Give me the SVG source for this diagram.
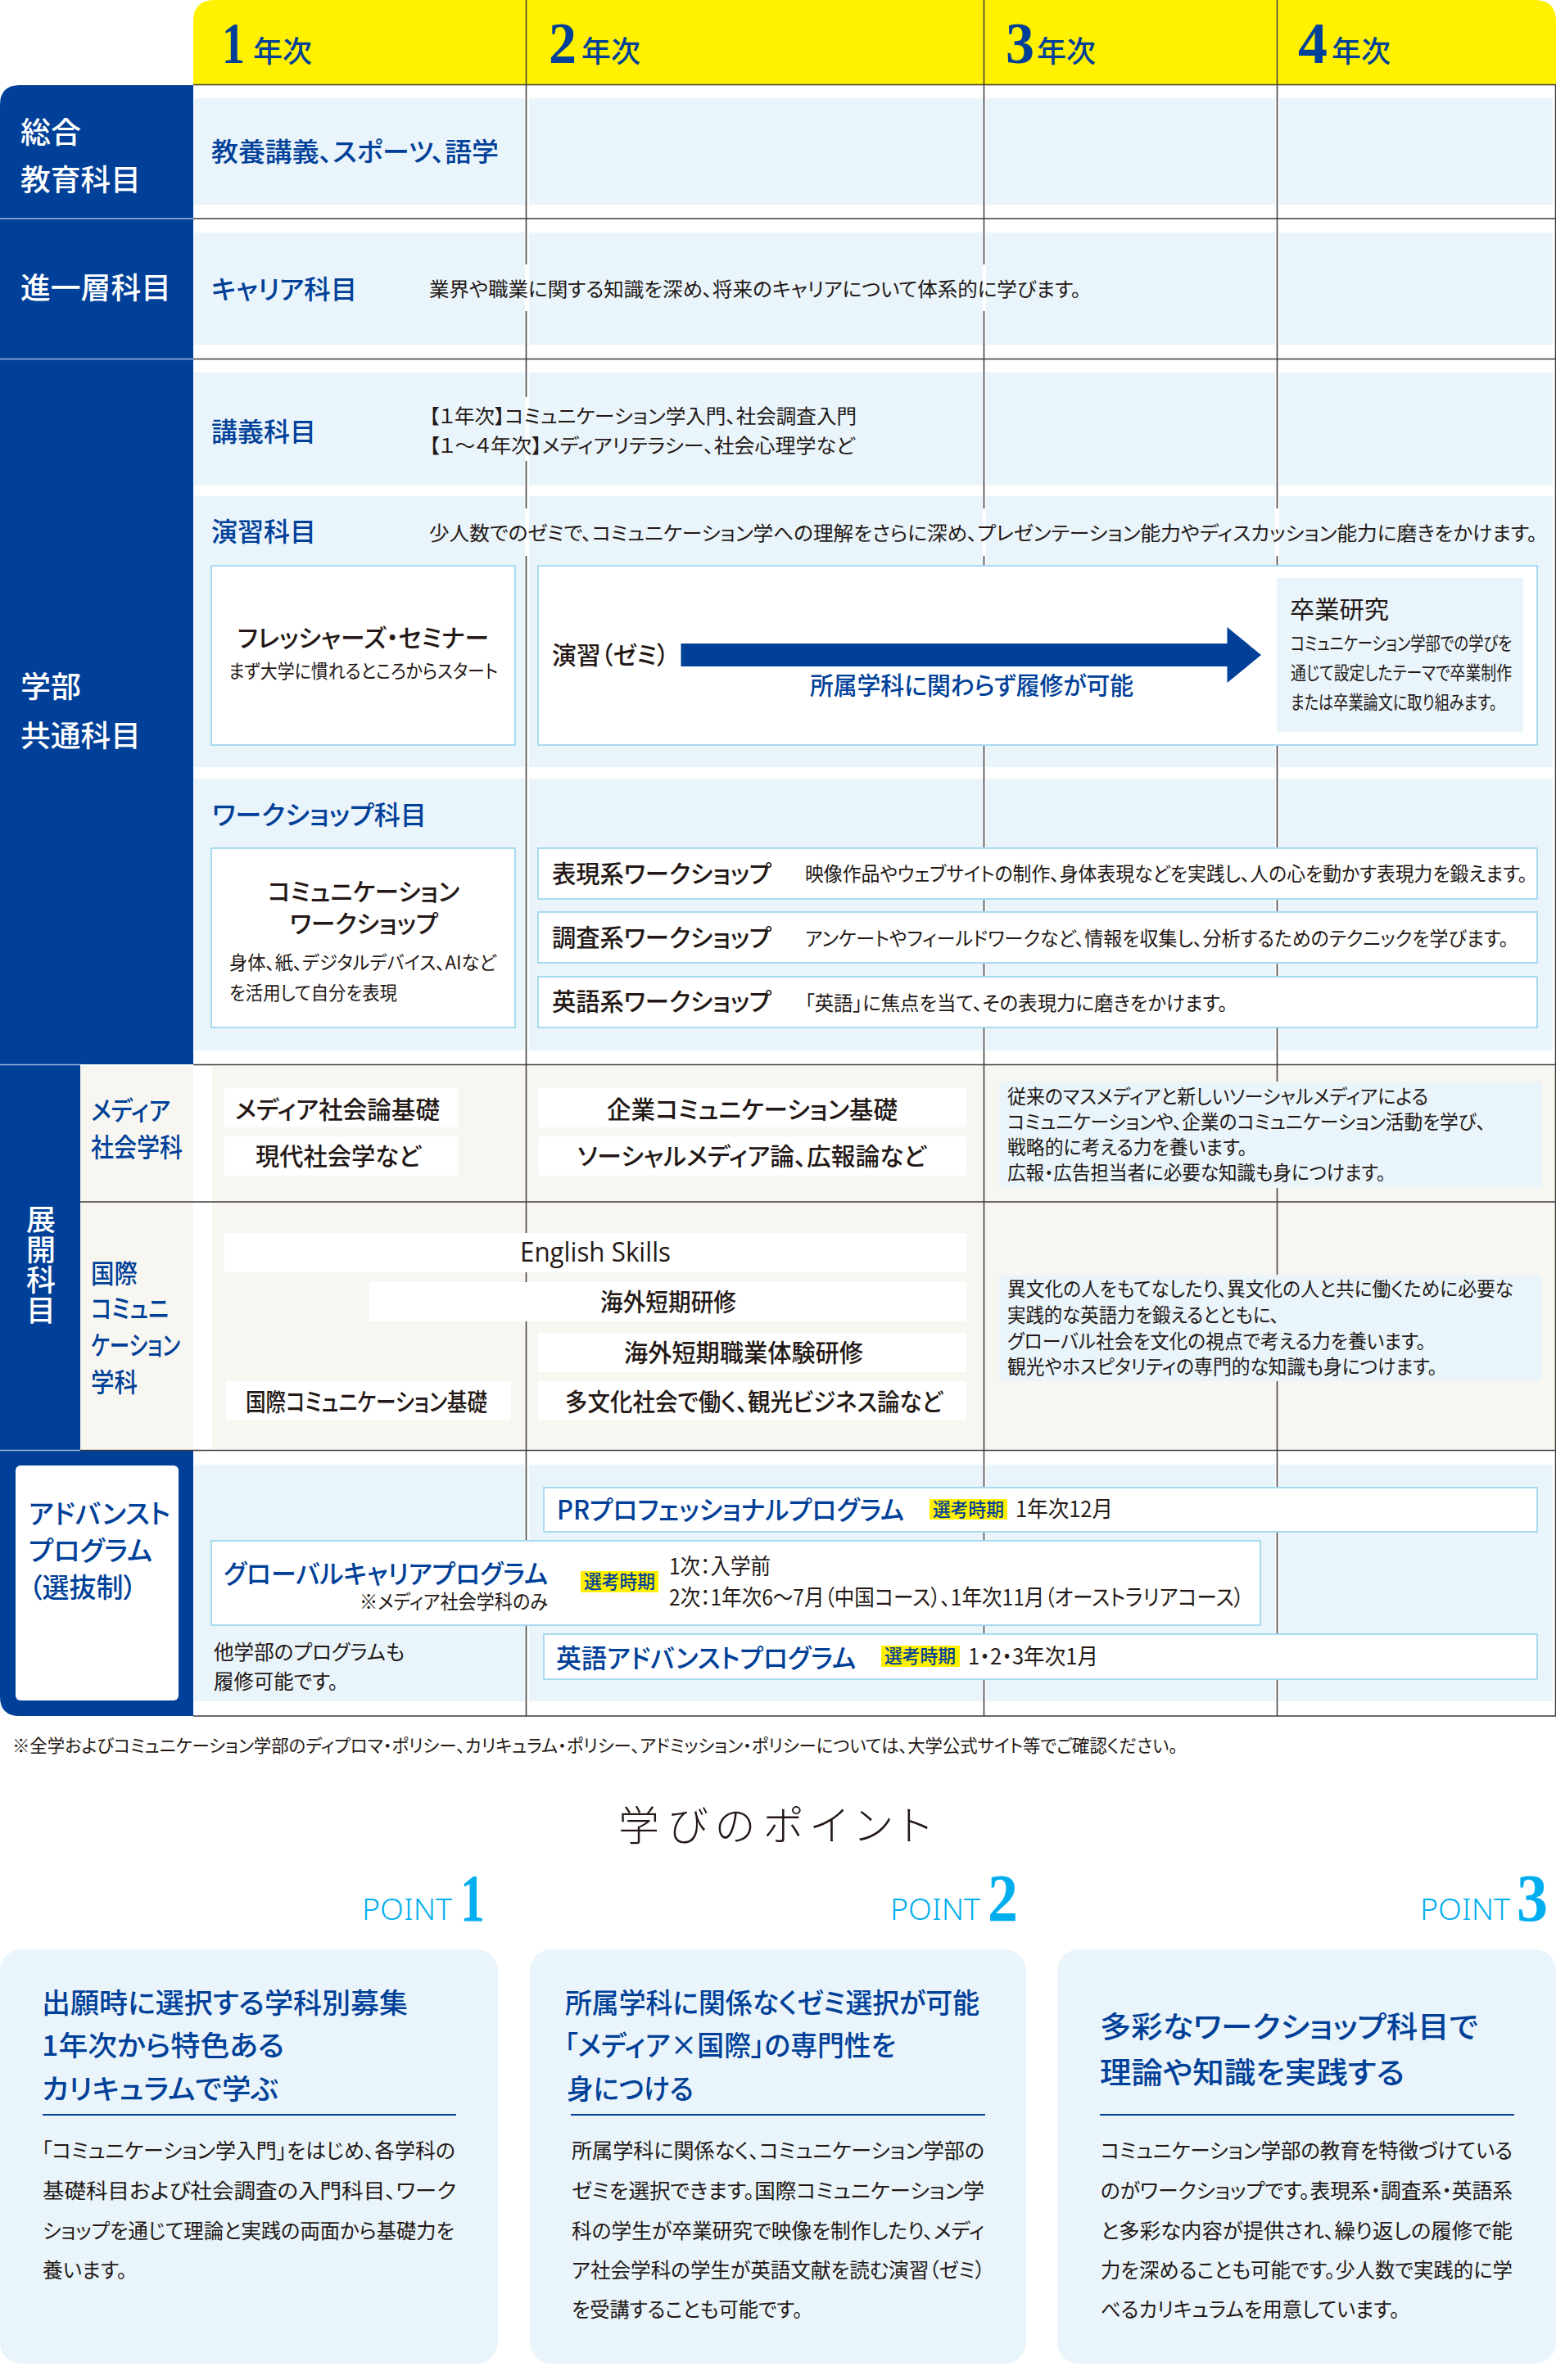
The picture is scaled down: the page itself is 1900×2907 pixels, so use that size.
<svg xmlns="http://www.w3.org/2000/svg" width="1900" height="2907" viewBox="0 0 1900 2907">
<style>
text{font-family:"Noto Sans CJK JP","Noto Sans",sans-serif;fill:#231815;font-feature-settings:"palt";}
.w{fill:#fff;font-size:36px;font-weight:500}
.y{fill:#004098;font-size:36px;font-weight:500}
.num{font-family:"Liberation Serif",serif;fill:#004098;font-size:72px;font-weight:700}
.bt{fill:#004098;font-size:32px;font-weight:500}
.d{font-size:24px;font-weight:400}
.h{font-size:30px;font-weight:500}
.s{font-size:23px;font-weight:400}
.tag{fill:#004098;font-size:23px;font-weight:500}
.pt{fill:#00AEEF;font-family:"Noto Sans",sans-serif;font-size:36px;font-weight:300}
.pn{fill:#00AEEF;font-family:"Liberation Serif",serif;font-size:82px;font-weight:700}
.ct{fill:#004098;font-size:34px;font-weight:500}
.b{font-size:25px;font-weight:400}
.band{fill:#E9F4FB}
.beige{fill:#F8F6F0}
.box{fill:#fff;stroke:#A8DAF0;stroke-width:2}
.wb{fill:#fff}
.ye{fill:#FFF100}
.rule{stroke:#3E3A39;stroke-width:1.5;fill:none}
.lt{stroke:#9DB8DC;stroke-width:1.5;fill:none}
.cr{stroke:#004098;stroke-width:2;fill:none}
</style>
<defs>
<clipPath id="gut"><rect x="237" y="0" width="404" height="2907"/><rect x="646" y="0" width="554" height="2907"/><rect x="1204" y="0" width="353" height="2907"/><rect x="1562" y="0" width="334" height="2907"/></clipPath>
</defs>

<g id="header">
<path class="ye" d="M236 104V26Q236 0 262 0H1874Q1900 0 1900 26V104Z"/>
</g>
<g id="side-columns">
<path d="M0 1300V128Q0 104 24 104H236V1300Z" fill="#004098"/>
<rect x="0" y="1301" width="98" height="470" fill="#004098"/>
<rect x="98" y="1302" width="138" height="468" class="beige"/>
<rect x="259" y="1302" width="1641" height="468" class="beige"/>
<path d="M0 1771H236V2096H24Q0 2096 0 2072Z" fill="#004098"/>
</g>
<g id="bands" clip-path="url(#gut)">
<rect class="band" x="237" y="120" width="1663" height="130"/>
<rect class="band" x="237" y="284" width="1663" height="137"/>
<rect class="band" x="237" y="455" width="1663" height="138"/>
<rect class="band" x="237" y="606" width="1663" height="331"/>
<rect class="band" x="237" y="951" width="1663" height="332"/>
<rect class="band" x="237" y="1789" width="1663" height="289"/>
</g>

<g id="connectors">
<path class="rule" d="M236 103.5H1900M236 267H1900M236 438.5H1900M236 1300.5H1900M98 1468H1900M98 1771.5H1900M236 2096H1900M1899.5 104V2096"/>
<path class="lt" d="M0 267H236M0 438.5H236M0 1300.5H98M0 1771.5H98"/>
<path class="rule" d="M642.5 0V323M642.5 380V485M642.5 563V621M642.5 679V2096M1201.5 0V323M1201.5 380V621M1201.5 679V2096M1559.5 0V621M1559.5 679V2096"/>
</g>

<g id="year-1"><text class="num" x="271" y="77" textLength="28" lengthAdjust="spacingAndGlyphs">1</text><text class="y" x="309" y="76" textLength="72" lengthAdjust="spacingAndGlyphs">年次</text></g>
<g id="year-2"><text class="num" x="670" y="77" textLength="34" lengthAdjust="spacingAndGlyphs">2</text><text class="y" x="710" y="76" textLength="72" lengthAdjust="spacingAndGlyphs">年次</text></g>
<g id="year-3"><text class="num" x="1228" y="77" textLength="35" lengthAdjust="spacingAndGlyphs">3</text><text class="y" x="1266" y="76" textLength="72" lengthAdjust="spacingAndGlyphs">年次</text></g>
<g id="year-4"><text class="num" x="1585" y="77" textLength="36" lengthAdjust="spacingAndGlyphs">4</text><text class="y" x="1626" y="76" textLength="72" lengthAdjust="spacingAndGlyphs">年次</text></g>

<g id="sogo-label"><text class="w" x="25" y="175" textLength="74" lengthAdjust="spacingAndGlyphs">総合</text><text class="w" x="25" y="233" textLength="147" lengthAdjust="spacingAndGlyphs">教育科目</text></g>
<g id="shinichiso-label"><text class="w" x="25" y="365" textLength="184" lengthAdjust="spacingAndGlyphs">進一層科目</text></g>
<g id="gakubu-label"><text class="w" x="25" y="852" textLength="74" lengthAdjust="spacingAndGlyphs">学部</text><text class="w" x="25" y="912" textLength="147" lengthAdjust="spacingAndGlyphs">共通科目</text></g>
<g id="tenkai-label"><text class="w" x="50" y="1471" writing-mode="vertical-rl" style="letter-spacing:1px;font-feature-settings:normal">展開科目</text></g>

<g id="kyoyo"><text class="bt" x="258" y="197" textLength="351" lengthAdjust="spacingAndGlyphs">教養講義、スポーツ、語学</text></g>
<g id="career"><text class="bt" x="258" y="365" textLength="178" lengthAdjust="spacingAndGlyphs">キャリア科目</text><text class="d" x="524" y="362" textLength="796" lengthAdjust="spacingAndGlyphs">業界や職業に関する知識を深め、将来のキャリアについて体系的に学びます。</text></g>
<g id="kogi"><text class="bt" x="258" y="539" textLength="128" lengthAdjust="spacingAndGlyphs">講義科目</text><text class="d" x="524" y="517" textLength="522" lengthAdjust="spacingAndGlyphs">【１年次】コミュニケーション学入門、社会調査入門</text><text class="d" x="524" y="553" textLength="520" lengthAdjust="spacingAndGlyphs">【１～４年次】メディアリテラシー、社会心理学など</text></g>
<g id="enshu"><text class="bt" x="258" y="661" textLength="128" lengthAdjust="spacingAndGlyphs">演習科目</text><text class="d" x="524" y="660" textLength="1353" lengthAdjust="spacingAndGlyphs">少人数でのゼミで、コミュニケーション学への理解をさらに深め、プレゼンテーション能力やディスカッション能力に磨きをかけます。</text></g>

<g id="freshers"><rect class="box" x="258" y="691" width="371" height="219"/><text class="h" x="290" y="790" textLength="307" lengthAdjust="spacingAndGlyphs">フレッシャーズ・セミナー</text><text class="s" x="279" y="828" textLength="329" lengthAdjust="spacingAndGlyphs">まず大学に慣れるところからスタート</text></g>
<g id="seminar"><rect class="box" x="657" y="691" width="1220" height="219"/><text class="h" x="674" y="811" textLength="143" lengthAdjust="spacingAndGlyphs">演習（ゼミ）</text><path d="M831.500 786H1498.500V766L1540 800L1498.500 834V814H831.500Z" fill="#004098"/><text class="bt" x="989" y="848" textLength="395" lengthAdjust="spacingAndGlyphs" style="font-size:30px">所属学科に関わらず履修が可能</text></g>
<g id="thesis"><rect class="band" x="1559" y="706" width="301" height="188"/><text x="1575" y="755" style="font-size:30px" textLength="121" lengthAdjust="spacingAndGlyphs">卒業研究</text><text class="s" x="1576" y="794" textLength="270" lengthAdjust="spacingAndGlyphs">コミュニケーション学部での学びを</text><text class="s" x="1576" y="830" textLength="270" lengthAdjust="spacingAndGlyphs">通じて設定したテーマで卒業制作</text><text class="s" x="1576" y="866" textLength="252" lengthAdjust="spacingAndGlyphs">または卒業論文に取り組みます。</text></g>

<g id="workshop-title"><text class="bt" x="259" y="1007" textLength="262" lengthAdjust="spacingAndGlyphs">ワークショップ科目</text></g>
<g id="comm-workshop"><rect class="box" x="258" y="1036" width="371" height="219"/><text class="h" x="327" y="1100" textLength="234" lengthAdjust="spacingAndGlyphs">コミュニケーション</text><text class="h" x="354" y="1139" textLength="181" lengthAdjust="spacingAndGlyphs">ワークショップ</text><text class="s" x="280" y="1184" textLength="326" lengthAdjust="spacingAndGlyphs">身体、紙、デジタルデバイス、AIなど</text><text class="s" x="280" y="1221" textLength="205" lengthAdjust="spacingAndGlyphs">を活用して自分を表現</text></g>
<g id="ws-hyogen"><rect class="box" x="657" y="1036" width="1220" height="62"/><text class="h" x="674" y="1078" textLength="268" lengthAdjust="spacingAndGlyphs">表現系ワークショップ</text><text class="d" x="983" y="1076" textLength="882" lengthAdjust="spacingAndGlyphs">映像作品やウェブサイトの制作、身体表現などを実践し、人の心を動かす表現力を鍛えます。</text></g>
<g id="ws-chosa"><rect class="box" x="657" y="1114" width="1220" height="62"/><text class="h" x="674" y="1156" textLength="268" lengthAdjust="spacingAndGlyphs">調査系ワークショップ</text><text class="d" x="983" y="1155" textLength="859" lengthAdjust="spacingAndGlyphs">アンケートやフィールドワークなど、情報を収集し、分析するためのテクニックを学びます。</text></g>
<g id="ws-eigo"><rect class="box" x="657" y="1193" width="1220" height="62"/><text class="h" x="674" y="1234" textLength="268" lengthAdjust="spacingAndGlyphs">英語系ワークショップ</text><text class="d" x="983" y="1234" textLength="516" lengthAdjust="spacingAndGlyphs">「英語」に焦点を当て、その表現力に磨きをかけます。</text></g>

<g id="media-label"><text class="bt" x="111" y="1368" textLength="97" lengthAdjust="spacingAndGlyphs">メディア</text><text class="bt" x="111" y="1413" textLength="112" lengthAdjust="spacingAndGlyphs">社会学科</text></g>
<g id="media-kiso"><rect class="wb" x="274" y="1329" width="285" height="48"/><text class="h" x="287" y="1366" textLength="250" lengthAdjust="spacingAndGlyphs">メディア社会論基礎</text></g>
<g id="gendai"><rect class="wb" x="274" y="1388" width="285" height="48"/><text class="h" x="312" y="1423" textLength="202" lengthAdjust="spacingAndGlyphs">現代社会学など</text></g>
<g id="kigyo"><rect class="wb" x="657" y="1329" width="523" height="48"/><text class="h" x="741" y="1366" textLength="355" lengthAdjust="spacingAndGlyphs">企業コミュニケーション基礎</text></g>
<g id="social"><rect class="wb" x="657" y="1388" width="523" height="48"/><text class="h" x="705" y="1423" textLength="426" lengthAdjust="spacingAndGlyphs">ソーシャルメディア論、広報論など</text></g>
<g id="media-desc"><rect class="band" x="1220" y="1321" width="663" height="130"/><text class="d" x="1230" y="1348" textLength="514" lengthAdjust="spacingAndGlyphs">従来のマスメディアと新しいソーシャルメディアによる</text><text class="d" x="1230" y="1379" textLength="584" lengthAdjust="spacingAndGlyphs">コミュニケーションや、企業のコミュニケーション活動を学び、</text><text class="d" x="1230" y="1410" textLength="293" lengthAdjust="spacingAndGlyphs">戦略的に考える力を養います。</text><text class="d" x="1230" y="1441" textLength="462" lengthAdjust="spacingAndGlyphs">広報・広告担当者に必要な知識も身につけます。</text></g>

<g id="kokusai-label"><text class="bt" x="111" y="1567" textLength="57" lengthAdjust="spacingAndGlyphs">国際</text><text class="bt" x="111" y="1610" textLength="95" lengthAdjust="spacingAndGlyphs">コミュニ</text><text class="bt" x="111" y="1655" textLength="109" lengthAdjust="spacingAndGlyphs">ケーション</text><text class="bt" x="111" y="1700" textLength="57" lengthAdjust="spacingAndGlyphs">学科</text></g>
<g id="english"><rect class="wb" x="274" y="1506" width="906" height="48"/><text x="635" y="1541" style="font-family:'Open Sans','Noto Sans',sans-serif;font-size:32px" textLength="184" lengthAdjust="spacingAndGlyphs">English Skills</text></g>
<g id="tanki"><rect class="wb" x="451" y="1566" width="729" height="48"/><text class="h" x="733" y="1601" textLength="166" lengthAdjust="spacingAndGlyphs">海外短期研修</text></g>
<g id="tanki-shoku"><rect class="wb" x="657" y="1628" width="523" height="48"/><text class="h" x="762" y="1663" textLength="292" lengthAdjust="spacingAndGlyphs">海外短期職業体験研修</text></g>
<g id="tabunka"><rect class="wb" x="657" y="1687" width="523" height="48"/><text class="h" x="690" y="1723" textLength="461" lengthAdjust="spacingAndGlyphs">多文化社会で働く、観光ビジネス論など</text></g>
<g id="kokusai-kiso"><rect class="wb" x="276" y="1687" width="348" height="48"/><text class="h" x="300" y="1723" textLength="295" lengthAdjust="spacingAndGlyphs">国際コミュニケーション基礎</text></g>
<g id="kokusai-desc"><rect class="band" x="1220" y="1557" width="663" height="130"/><text class="d" x="1230" y="1583" textLength="618" lengthAdjust="spacingAndGlyphs">異文化の人をもてなしたり、異文化の人と共に働くために必要な</text><text class="d" x="1230" y="1615" textLength="332" lengthAdjust="spacingAndGlyphs">実践的な英語力を鍛えるとともに、</text><text class="d" x="1230" y="1647" textLength="511" lengthAdjust="spacingAndGlyphs">グローバル社会を文化の視点で考える力を養います。</text><text class="d" x="1230" y="1678" textLength="525" lengthAdjust="spacingAndGlyphs">観光やホスピタリティの専門的な知識も身につけます。</text></g>

<g id="advanced-label"><rect class="wb" x="19" y="1790" width="199" height="287" rx="6"/><text class="bt" x="35" y="1861" textLength="173" lengthAdjust="spacingAndGlyphs" style="font-size:33px">アドバンスト</text><text class="bt" x="35" y="1906" textLength="151" lengthAdjust="spacingAndGlyphs" style="font-size:33px">プログラム</text><text class="bt" x="35" y="1951" textLength="132" lengthAdjust="spacingAndGlyphs" style="font-size:33px">（選抜制）</text></g>
<g id="pr-program"><rect class="box" x="664" y="1817" width="1213" height="54"/><text class="bt" x="680" y="1856" textLength="424" lengthAdjust="spacingAndGlyphs">PRプロフェッショナルプログラム</text><rect class="ye" x="1135" y="1831" width="95" height="25"/><text class="tag" x="1139" y="1852" textLength="87" lengthAdjust="spacingAndGlyphs">選考時期</text><text x="1240" y="1853" style="font-size:27px" textLength="119" lengthAdjust="spacingAndGlyphs">1年次12月</text></g>
<g id="global-program"><rect class="box" x="258" y="1882" width="1281" height="103"/><text class="bt" x="273" y="1934" textLength="396" lengthAdjust="spacingAndGlyphs">グローバルキャリアプログラム</text><text class="d" x="439" y="1965" textLength="230" lengthAdjust="spacingAndGlyphs">※メディア社会学科のみ</text><rect class="ye" x="709" y="1919" width="95" height="26"/><text class="tag" x="713" y="1940" textLength="87" lengthAdjust="spacingAndGlyphs">選考時期</text><text x="817" y="1923" style="font-size:27px" textLength="124" lengthAdjust="spacingAndGlyphs">1次：入学前</text><text x="817" y="1961" style="font-size:27px" textLength="702" lengthAdjust="spacingAndGlyphs">2次：1年次6～7月（中国コース）、1年次11月（オーストラリアコース）</text></g>
<g id="other-faculty"><text class="b" x="261" y="2027" textLength="233" lengthAdjust="spacingAndGlyphs">他学部のプログラムも</text><text class="b" x="261" y="2063" textLength="152" lengthAdjust="spacingAndGlyphs">履修可能です。</text></g>
<g id="eigo-program"><rect class="box" x="664" y="1996" width="1213" height="55"/><text class="bt" x="679" y="2037" textLength="366" lengthAdjust="spacingAndGlyphs">英語アドバンストプログラム</text><rect class="ye" x="1076" y="2010" width="96" height="26"/><text class="tag" x="1080" y="2031" textLength="87" lengthAdjust="spacingAndGlyphs">選考時期</text><text x="1182" y="2033" style="font-size:27px" textLength="159" lengthAdjust="spacingAndGlyphs">1・2・3年次1月</text></g>
<g id="footnote"><text x="15" y="2140" style="font-size:22px" textLength="1423" lengthAdjust="spacingAndGlyphs">※全学およびコミュニケーション学部のディプロマ・ポリシー、カリキュラム・ポリシー、アドミッション・ポリシーについては、大学公式サイト等でご確認ください。</text></g>

<g id="points-title"><text x="755" y="2248" style="font-size:50px;font-weight:300" textLength="382" lengthAdjust="spacing">学びのポイント</text></g>

<g id="point-1"><text class="pt" x="442" y="2345" textLength="110" lengthAdjust="spacingAndGlyphs">POINT</text><text class="pn" x="562" y="2346" textLength="30" lengthAdjust="spacingAndGlyphs">1</text>
<rect class="band" x="0" y="2381" width="608" height="506" rx="26"/>
<text class="ct" x="51" y="2459" textLength="447" lengthAdjust="spacingAndGlyphs">出願時に選択する学科別募集</text><text class="ct" x="51" y="2511" textLength="296" lengthAdjust="spacingAndGlyphs">1年次から特色ある</text><text class="ct" x="51" y="2564" textLength="289" lengthAdjust="spacingAndGlyphs">カリキュラムで学ぶ</text>
<path class="cr" d="M52 2583H557"/>
<text class="b" x="51" y="2636" textLength="505" lengthAdjust="spacingAndGlyphs">「コミュニケーション学入門」をはじめ、各学科の</text><text class="b" x="52" y="2685" textLength="505" lengthAdjust="spacingAndGlyphs">基礎科目および社会調査の入門科目、ワーク</text><text class="b" x="52" y="2734" textLength="503" lengthAdjust="spacingAndGlyphs">ショップを通じて理論と実践の両面から基礎力を</text><text class="b" x="52" y="2782" textLength="103" lengthAdjust="spacingAndGlyphs">養います。</text></g>

<g id="point-2"><text class="pt" x="1087" y="2345" textLength="110" lengthAdjust="spacingAndGlyphs">POINT</text><text class="pn" x="1206" y="2346" textLength="37" lengthAdjust="spacingAndGlyphs">2</text>
<rect class="band" x="647" y="2381" width="606" height="506" rx="26"/>
<text class="ct" x="690" y="2459" textLength="506" lengthAdjust="spacingAndGlyphs">所属学科に関係なくゼミ選択が可能</text><text class="ct" x="689" y="2511" textLength="405" lengthAdjust="spacingAndGlyphs">「メディア×国際」の専門性を</text><text class="ct" x="692" y="2564" textLength="155" lengthAdjust="spacingAndGlyphs">身につける</text>
<path class="cr" d="M697 2583H1203"/>
<text class="b" x="698" y="2636" textLength="504" lengthAdjust="spacingAndGlyphs">所属学科に関係なく、コミュニケーション学部の</text><text class="b" x="698" y="2685" textLength="504" lengthAdjust="spacingAndGlyphs">ゼミを選択できます。国際コミュニケーション学</text><text class="b" x="698" y="2734" textLength="504" lengthAdjust="spacingAndGlyphs">科の学生が卒業研究で映像を制作したり、メディ</text><text class="b" x="698" y="2782" textLength="505" lengthAdjust="spacingAndGlyphs">ア社会学科の学生が英語文献を読む演習（ゼミ）</text><text class="b" x="698" y="2830" textLength="282" lengthAdjust="spacingAndGlyphs">を受講することも可能です。</text></g>

<g id="point-3"><text class="pt" x="1734" y="2345" textLength="110" lengthAdjust="spacingAndGlyphs">POINT</text><text class="pn" x="1852" y="2346" textLength="38" lengthAdjust="spacingAndGlyphs">3</text>
<rect class="band" x="1291" y="2381" width="609" height="506" rx="26"/>
<text class="ct" x="1343" y="2489" textLength="462" lengthAdjust="spacingAndGlyphs" style="font-size:36px">多彩なワークショップ科目で</text><text class="ct" x="1343" y="2545" textLength="372" lengthAdjust="spacingAndGlyphs" style="font-size:36px">理論や知識を実践する</text>
<path class="cr" d="M1343 2583H1849"/>
<text class="b" x="1344" y="2636" textLength="503" lengthAdjust="spacingAndGlyphs">コミュニケーション学部の教育を特徴づけている</text><text class="b" x="1344" y="2685" textLength="503" lengthAdjust="spacingAndGlyphs">のがワークショップです。表現系・調査系・英語系</text><text class="b" x="1344" y="2734" textLength="503" lengthAdjust="spacingAndGlyphs">と多彩な内容が提供され、繰り返しの履修で能</text><text class="b" x="1344" y="2782" textLength="503" lengthAdjust="spacingAndGlyphs">力を深めることも可能です。少人数で実践的に学</text><text class="b" x="1344" y="2830" textLength="365" lengthAdjust="spacingAndGlyphs">べるカリキュラムを用意しています。</text></g>
</svg>
